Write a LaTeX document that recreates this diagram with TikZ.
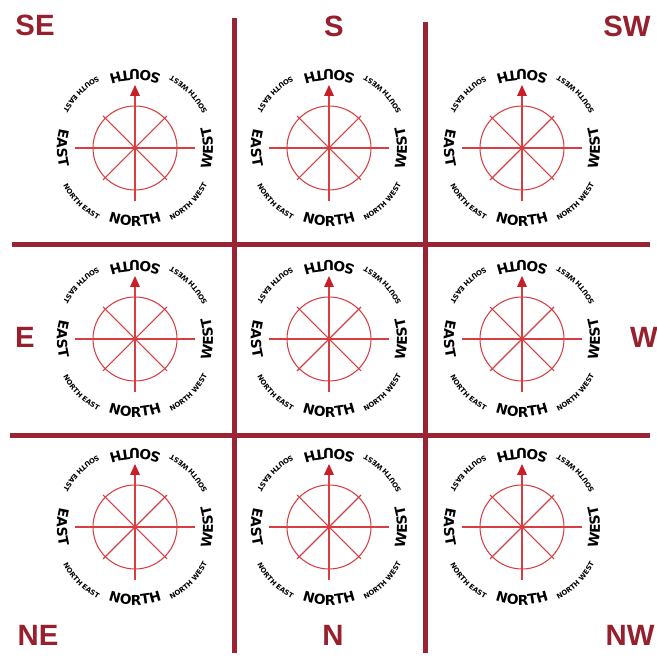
\documentclass[tikz,border=0pt]{standalone}
\usepackage{fontspec}
\usepackage{tikz}
\usetikzlibrary{decorations.text}
\newfontfamily\compfont{DejaVu Sans}
\newfontfamily\labelfont{Liberation Sans}
\definecolor{gridred}{RGB}{155,36,52}
\definecolor{labelred}{RGB}{150,32,45}
\definecolor{compred}{RGB}{214,62,66}
\definecolor{arrowred}{RGB}{200,30,40}
\newcommand{\bigdir}{\compfont\bfseries\fontsize{10.3}{11}\selectfont}
\newcommand{\smalldir}{\compfont\bfseries\fontsize{5.2}{6}\selectfont}

\begin{document}
\begin{tikzpicture}[x=0.75pt,y=0.75pt,
  gridline/.style={gridred,line width=3.75pt},
  compline/.style={compred,line width=0.8pt},
  cornerlabel/.style={font=\labelfont\bfseries\fontsize{22}{22}\selectfont,text=labelred,inner sep=0pt}]
  \useasboundingbox (0,0) rectangle (657,656);
  % dividing lines
  \draw[gridline] (234,638) -- (234,3);
  \draw[gridline] (425,634) -- (425,3);
  \draw[gridline] (12,411) -- (650,411);
  \draw[gridline] (10,220) -- (650,220);
  % the nine compasses
  \foreach \cx/\cy in {135/508,329/508,522/508,135/317,329/317,522/317,135/129,329/129,522/129} {
    \begin{scope}[shift={(\cx,\cy)}]
      \draw[compline] (0,0) circle (42);
      \draw[compline] (-60,0) -- (60,0);
      \draw[compline] (0,-53) -- (0,54);
      \draw[compline] (-32,-32) -- (32,32);
      \draw[compline] (-32,32) -- (32,-32);
      \fill[compred] (0,0) circle (1.6);
      \fill[arrowred] (0,63) -- (-5,52) -- (5,52) -- cycle;
      \foreach \a/\t in {270/NORTH,0/WEST,90/SOUTH,180/EAST} {
        \path[decorate,decoration={text along path,text align=center,
          text/.expanded={|\noexpand\bigdir|\t}}]
          (\a-40:78) arc[start angle=\a-40,end angle=\a+40,radius=78];
      }
      \foreach \a/\t in {315/NORTH WEST,45/SOUTH WEST,135/SOUTH EAST,225/NORTH EAST} {
        \path[decorate,decoration={text along path,text align=center,
          text/.expanded={|\noexpand\smalldir|\t}}]
          (\a-30:81) arc[start angle=\a-30,end angle=\a+30,radius=81];
      }
    \end{scope}
  }
  % corner and edge labels
  \node[cornerlabel] (se) at (35,631) {SE};
  \node[cornerlabel] (s) at (334,630) {S};
  \node[cornerlabel] (sw) at (627,630) {SW};
  \node[cornerlabel] (e) at (25,319) {E};
  \node[cornerlabel] (w) at (644,319) {W};
  \node[cornerlabel] (ne) at (38,21) {NE};
  \node[cornerlabel] (n) at (333,21) {N};
  \node[cornerlabel] (nw) at (630,21) {NW};
\end{tikzpicture}
\end{document}
